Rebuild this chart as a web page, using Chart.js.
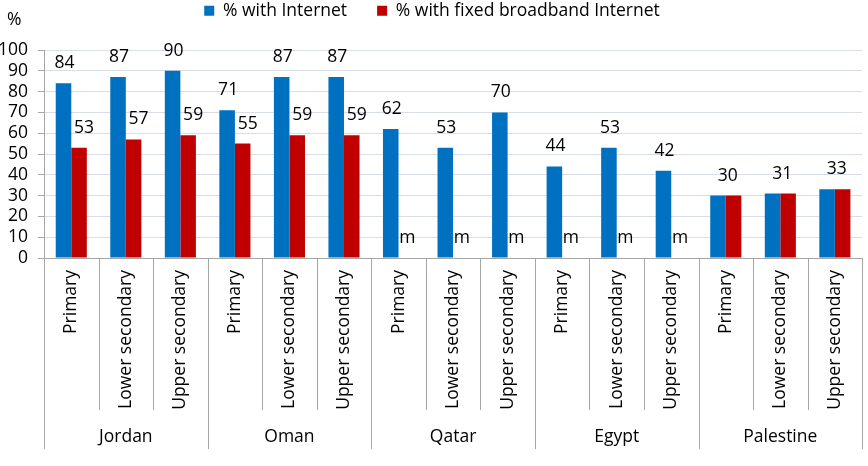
<!DOCTYPE html>
<html>
<head>
<meta charset="utf-8">
<script src="https://cdn.jsdelivr.net/npm/chart.js@4"></script>
<style>
html,body{margin:0;padding:0;background:#fff;}
#wrap{width:868px;height:466px;}
</style>
</head>
<body>
<div id="wrap"><canvas id="c" width="868" height="466"></canvas></div>
<script>
const groups = ['Jordan', 'Oman', 'Qatar', 'Egypt', 'Palestine'];
const levels = ['Primary', 'Lower secondary', 'Upper secondary'];
const categories = [
  'Primary', 'Lower secondary', 'Upper secondary',
  'Primary', 'Lower secondary', 'Upper secondary',
  'Primary', 'Lower secondary', 'Upper secondary',
  'Primary', 'Lower secondary', 'Upper secondary',
  'Primary', 'Lower secondary', 'Upper secondary'
];
const withInternet = [84, 87, 90, 71, 87, 87, 62, 53, 70, 44, 53, 42, 30, 31, 33];
const withBroadband = [53, 57, 59, 55, 59, 59, null, null, null, null, null, null, 30, 31, 33];
const missingLabel = 'm';
const yTicks = [0, 10, 20, 30, 40, 50, 60, 70, 80, 90, 100];

const FONT = '"Open Sans", "DejaVu Sans", sans-serif';
const FS = 17.5;
const BLUE = '#0070C0';
const RED = '#C00000';
const GRID = '#d9dde6';
const AXIS = '#a6a6a6';

const legendFitPlugin = {
  id: 'legendFit',
  afterInit(chart) {
    const lg = chart.legend;
    if (!lg) return;
    const orig = lg.fit;
    lg.fit = function () { orig.call(this); this.height = 78; };
  }
};

const labelPlugin = {
  id: 'barLabels',
  afterDatasetsDraw(chart) {
    const ctx = chart.ctx;
    const y = chart.scales.y;
    const mB = chart.getDatasetMeta(0);
    const mR = chart.getDatasetMeta(1);
    ctx.save();
    ctx.font = FS + 'px ' + FONT;
    ctx.fillStyle = '#000';
    ctx.textAlign = 'center';
    ctx.textBaseline = 'middle';
    withInternet.forEach((v, i) => {
      const b = mB.data[i];
      const r = mR.data[i];
      const rv = withBroadband[i];
      if (rv !== null && rv === v) {
        ctx.fillText(String(v), (b.x + r.x) / 2 + 2, y.getPixelForValue(v) - 20);
        return;
      }
      ctx.fillText(String(v), b.x + 1, y.getPixelForValue(v) - 20);
      const rx = (r && isFinite(r.x)) ? r.x : b.x + b.width;
      if (rv === null) {
        ctx.fillText(missingLabel, rx + 1, y.getPixelForValue(0) - 20);
      } else {
        ctx.fillText(String(rv), rx + 5, y.getPixelForValue(rv) - 20);
      }
    });
    ctx.restore();
  }
};

const axisPlugin = {
  id: 'multiAxis',
  afterDraw(chart) {
    const ctx = chart.ctx;
    const x = chart.scales.x;
    const area = chart.chartArea;
    const n = categories.length;
    const step = (x.right - x.left) / n;
    ctx.save();
    ctx.strokeStyle = AXIS;
    ctx.lineWidth = 1;
    for (let i = 0; i <= n; i++) {
      const px = Math.round(x.left + i * step) + 0.5;
      const isGroup = i % levels.length === 0;
      ctx.beginPath();
      ctx.moveTo(px, area.bottom);
      ctx.lineTo(px, isGroup ? area.bottom + 191 : area.bottom + 152);
      ctx.stroke();
    }
    ctx.font = FS + 'px ' + FONT;
    ctx.fillStyle = '#000';
    ctx.textAlign = 'center';
    ctx.textBaseline = 'middle';
    groups.forEach((g, gi) => {
      const cx = x.left + (gi * levels.length + levels.length / 2) * step;
      ctx.fillText(g, cx, area.bottom + 179);
    });
    ctx.textAlign = 'left';
    ctx.fillText('%', 7, 20);
    ctx.restore();
  }
};

new Chart(document.getElementById('c'), {
  type: 'bar',
  data: {
    labels: categories,
    datasets: [
      { label: '% with Internet', data: withInternet, backgroundColor: BLUE, borderWidth: 0 },
      { label: '% with fixed broadband Internet', data: withBroadband, backgroundColor: RED, borderWidth: 0 }
    ]
  },
  options: {
    responsive: false,
    animation: false,
    layout: { padding: { top: -28, right: 4, left: 0, bottom: 0 } },
    datasets: { bar: { categoryPercentage: 0.57, barPercentage: 1.0 } },
    plugins: {
      legend: {
        position: 'top',
        labels: {
          boxWidth: 10, boxHeight: 10, padding: 30,
          color: '#000',
          font: { family: FONT, size: FS }
        }
      },
      tooltip: { enabled: false }
    },
    scales: {
      x: {
        grid: { display: false, drawTicks: false },
        border: { display: true, color: AXIS },
        ticks: {
          color: '#000', font: { family: FONT, size: FS },
          minRotation: 90, maxRotation: 90, autoSkip: false, padding: 12
        },
        afterFit(s) { s.height = 208; }
      },
      y: {
        min: 0, max: 100,
        afterBuildTicks(s) { s.ticks = yTicks.map(v => ({ value: v })); },
        grid: { color: GRID, tickLength: 6, tickColor: AXIS },
        border: { display: true, color: AXIS },
        ticks: { color: '#000', font: { family: FONT, size: FS }, padding: 10, autoSkip: false },
        afterFit(s) { s.width = 44; }
      }
    }
  },
  plugins: [legendFitPlugin, labelPlugin, axisPlugin]
});
</script>
</body>
</html>
